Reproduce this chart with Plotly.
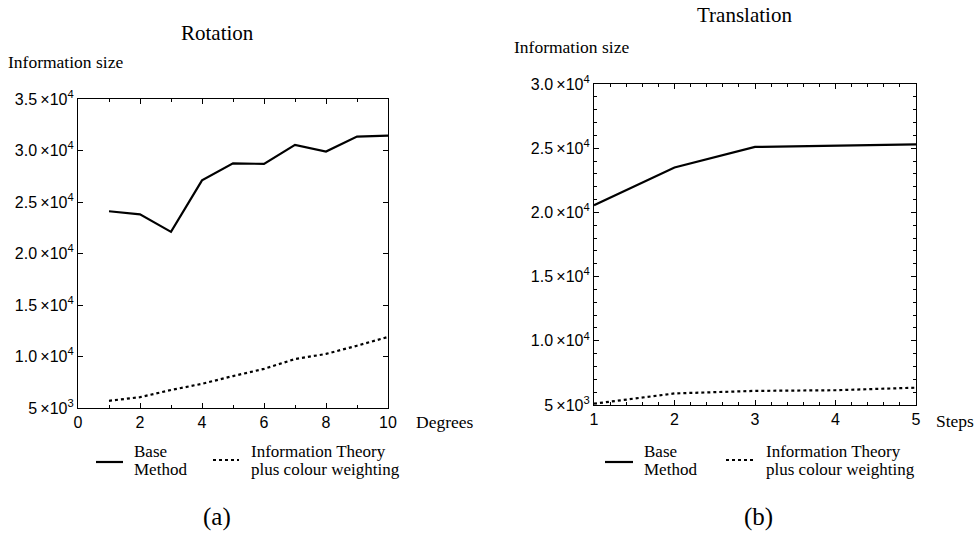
import plotly.graph_objects as go

# ---- data ----
rot_degrees = [1, 2, 3, 4, 5, 6, 7, 8, 9, 10]
rot_base = [24100, 23800, 22100, 27100, 28750, 28700, 30550, 29900, 31350, 31450]
rot_info = [5700, 6050, 6750, 7350, 8100, 8800, 9750, 10250, 11050, 11900]

tr_steps = [1, 2, 3, 4, 5]
tr_base = [20550, 23500, 25100, 25200, 25300]
tr_info = [5100, 5900, 6100, 6150, 6350]

rot_yticks = [5000, 10000, 15000, 20000, 25000, 30000, 35000]
rot_ytext = ["5\u2009×10<sup>3</sup>", "1.0\u2009×10<sup>4</sup>", "1.5\u2009×10<sup>4</sup>", "2.0\u2009×10<sup>4</sup>",
             "2.5\u2009×10<sup>4</sup>", "3.0\u2009×10<sup>4</sup>", "3.5\u2009×10<sup>4</sup>"]
tr_yticks = [5000, 10000, 15000, 20000, 25000, 30000]
tr_ytext = ["5\u2009×10<sup>3</sup>", "1.0\u2009×10<sup>4</sup>", "1.5\u2009×10<sup>4</sup>", "2.0\u2009×10<sup>4</sup>",
            "2.5\u2009×10<sup>4</sup>", "3.0\u2009×10<sup>4</sup>"]

W, H = 977, 550
SERIF = "Liberation Serif, Times New Roman, serif"
SANS = "Liberation Sans, Arial, sans-serif"

def px(x):
    return x / W

def py(y):
    return 1 - y / H

fig = go.Figure()
solid = dict(color="black", width=2.2)
dotted = dict(color="black", width=2.2, dash="3px,3px")

fig.add_trace(go.Scatter(x=rot_degrees, y=rot_base, mode="lines", line=solid, xaxis="x", yaxis="y", showlegend=False))
fig.add_trace(go.Scatter(x=rot_degrees, y=rot_info, mode="lines", line=dotted, xaxis="x", yaxis="y", showlegend=False))
fig.add_trace(go.Scatter(x=tr_steps, y=tr_base, mode="lines", line=solid, xaxis="x2", yaxis="y2", showlegend=False))
fig.add_trace(go.Scatter(x=tr_steps, y=tr_info, mode="lines", line=dotted, xaxis="x2", yaxis="y2", showlegend=False))

axcommon = dict(showline=True, linecolor="black", linewidth=1.2, mirror="allticks", ticks="inside",
                ticklen=5, tickcolor="black", tickwidth=1, showgrid=False, zeroline=False, automargin=False,
                tickfont=dict(family=SANS, size=16, color="black"))

tr_minor_x = [round(1 + 0.2 * i, 1) for i in range(1, 20) if i % 5 != 0]
tr_minor_y = [v for v in range(6000, 30000, 1000) if v % 5000 != 0]

fig.update_layout(
    width=W, height=H, autosize=False,
    margin=dict(l=0, r=0, t=0, b=0, pad=0, autoexpand=False),
    paper_bgcolor="white", plot_bgcolor="white",
    showlegend=False,
    xaxis=dict(domain=[px(78), px(388)], range=[0, 10], tickmode="array",
               tickvals=[0, 2, 4, 6, 8, 10], ticktext=["0", "2", "4", "6", "8", "10"],
               minor=dict(ticks="inside", tickvals=[1, 3, 5, 7, 9], ticklen=3, tickcolor="black"),
               anchor="y", **axcommon),
    yaxis=dict(domain=[py(408), py(99)], range=[5000, 35000], tickmode="array",
               tickvals=rot_yticks, ticktext=rot_ytext, anchor="x", **axcommon),
    xaxis2=dict(domain=[px(594), px(916)], range=[1, 5], tickmode="array",
                tickvals=[1, 2, 3, 4, 5], ticktext=["1", "2", "3", "4", "5"],
                minor=dict(ticks="inside", tickvals=tr_minor_x, ticklen=3, tickcolor="black"),
                anchor="y2", **axcommon),
    yaxis2=dict(domain=[py(405), py(84)], range=[5000, 30000], tickmode="array",
                tickvals=tr_yticks, ticktext=tr_ytext,
                minor=dict(ticks="inside", tickvals=tr_minor_y, ticklen=3, tickcolor="black"),
                anchor="x2", **axcommon),
)

def txt(text, x, y, size=17, anchor="left", family=SERIF):
    fig.add_annotation(text=text, x=px(x), y=py(y), xref="paper", yref="paper", showarrow=False,
                       xanchor=anchor, yanchor="middle", font=dict(family=family, size=size, color="black"))

# titles and labels
txt("Rotation", 217, 33, size=21, anchor="center")
txt("Information size", 6, 62, size=17.5)
txt("Degrees", 414, 422, size=17.5)
txt("(a)", 217, 517, size=25, anchor="center")
txt("Translation", 744, 15, size=21, anchor="center")
txt("Information size", 512, 47, size=17.5)
txt("Steps", 934, 421, size=17.5)
txt("(b)", 758, 517, size=25, anchor="center")

# legend blocks
for (lx0, lx1, bx, dx0, dx1, ix) in [(96, 123, 132, 213, 239, 249), (605, 633, 642, 726, 754, 764)]:
    fig.add_shape(type="line", xref="paper", yref="paper", x0=px(lx0), x1=px(lx1), y0=py(462), y1=py(462),
                  line=dict(color="black", width=2.2))
    fig.add_shape(type="line", xref="paper", yref="paper", x0=px(dx0), x1=px(dx1), y0=py(460), y1=py(460),
                  line=dict(color="black", width=2.2, dash="3px,3px"))
    txt("Base", bx, 451)
    txt("Method", bx, 469)
    txt("Information Theory", ix, 451)
    txt("plus colour weighting", ix, 469)

fig.write_html("out.html")
